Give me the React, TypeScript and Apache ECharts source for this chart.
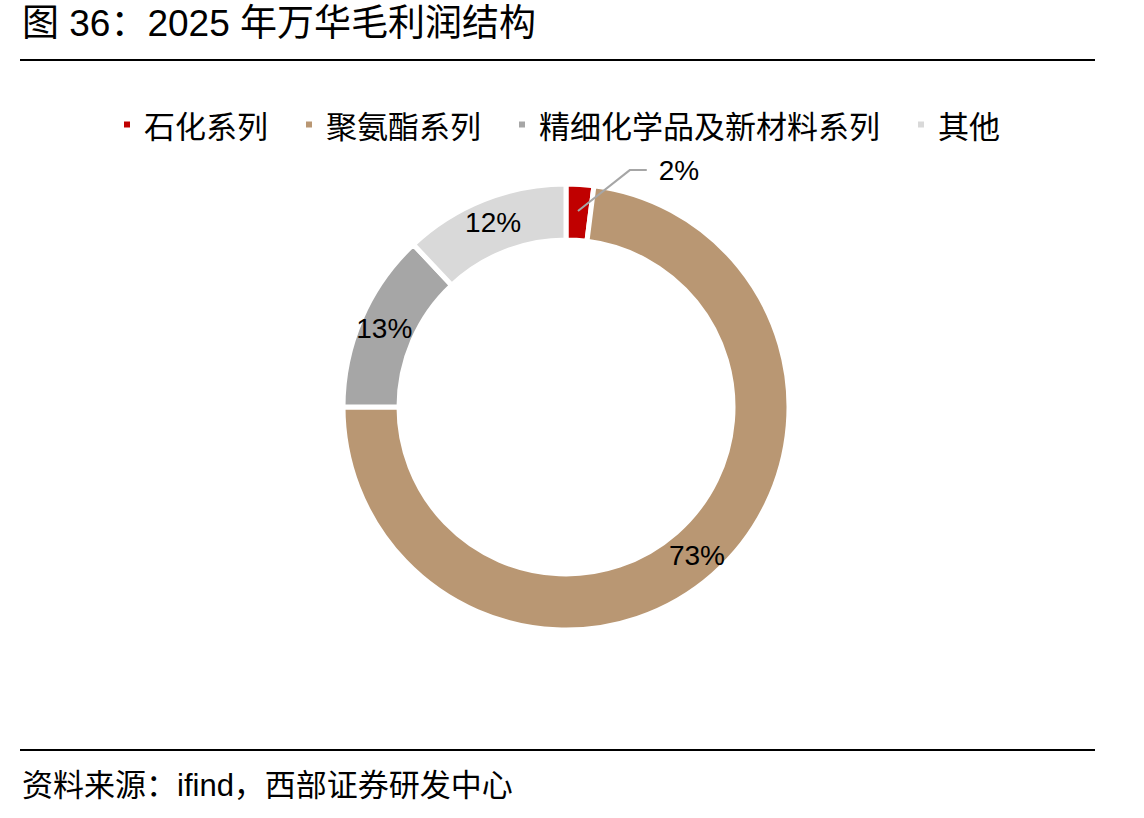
import React, { useEffect, useRef } from "react";
import * as echarts from "echarts";

const categories = ["石化系列", "聚氨酯系列", "精细化学品及新材料系列", "其他"];
const shares = [2, 73, 13, 12];
const colors = ["#C00000", "#B99773", "#A6A6A6", "#D9D9D9"];
const titleText = "图 36：2025 年万华毛利润结构";
const sourceText = "资料来源：ifind，西部证券研发中心";

const CJK = "'Noto Sans CJK SC'";
const LATIN_CJK = "'Liberation Sans', 'Noto Sans CJK SC'";
const NARROW = "'Liberation Sans Narrow', 'Arial Narrow', 'Liberation Sans', Arial";

export default function App() {
  const ref = useRef<HTMLDivElement>(null);
  useEffect(() => {
    if (!ref.current) return;
    const chart = echarts.init(ref.current, null, { renderer: "svg" });
    const mainData = categories.map((name, i) => ({
      name,
      value: shares[i],
      itemStyle: { color: colors[i] },
      label: { show: i !== 0 },
    }));
    const leaderData = categories.map((name, i) => ({
      name,
      value: shares[i],
      label: { show: i === 0 },
      labelLine: { show: i === 0 },
    }));
    chart.setOption({
      animation: false,
      backgroundColor: "#ffffff",
      legend: {
        data: categories,
        left: 117,
        top: 104,
        icon: "rect",
        itemWidth: 8,
        itemHeight: 8,
        itemGap: 36,
        textStyle: {
          fontFamily: CJK,
          fontSize: 31,
          color: "#000",
          padding: [0, 0, 0, 8],
        },
        selectedMode: false,
      },
      series: [
        {
          type: "pie",
          name: "main",
          z: 1,
          center: [566, 407],
          radius: [167, 223],
          startAngle: 90,
          clockwise: true,
          avoidLabelOverlap: false,
          silent: true,
          itemStyle: { borderColor: "#ffffff", borderWidth: 5 },
          label: {
            position: "inside",
            formatter: "{c}%",
            fontFamily: NARROW,
            fontSize: 28,
            color: "#000",
          },
          labelLine: { show: false },
          data: mainData,
        },
        {
          type: "pie",
          name: "leader",
          z: 5,
          center: [499.5, 273],
          radius: [0, 100],
          startAngle: 41.9,
          clockwise: true,
          avoidLabelOverlap: false,
          silent: true,
          itemStyle: { color: "rgba(0,0,0,0)" },
          label: {
            position: "outside",
            formatter: "{c}%",
            fontFamily: NARROW,
            fontSize: 28,
            color: "#000",
            distanceToLabelLine: 12,
          },
          labelLine: {
            length: 66,
            length2: 17,
            smooth: false,
            lineStyle: { color: "#A6A6A6", width: 2 },
          },
          data: leaderData,
        },
      ],
      graphic: [
        {
          type: "text",
          left: 22,
          top: 5,
          style: {
            text: titleText,
            fontFamily: LATIN_CJK,
            fontSize: 37,
            fill: "#000",
          },
        },
        {
          type: "line",
          shape: { x1: 20, y1: 60, x2: 1095, y2: 60 },
          style: { stroke: "#000", lineWidth: 2 },
        },
        {
          type: "line",
          shape: { x1: 20, y1: 750, x2: 1095, y2: 750 },
          style: { stroke: "#000", lineWidth: 2 },
        },
        {
          type: "text",
          left: 22,
          top: 770,
          style: {
            text: sourceText,
            fontFamily: LATIN_CJK,
            fontSize: 31,
            fill: "#000",
          },
        },
      ],
    });
    return () => chart.dispose();
  }, []);
  return (
    <div
      ref={ref}
      style={{ position: "absolute", left: 0, top: 0, width: 1144, height: 818 }}
    />
  );
}
